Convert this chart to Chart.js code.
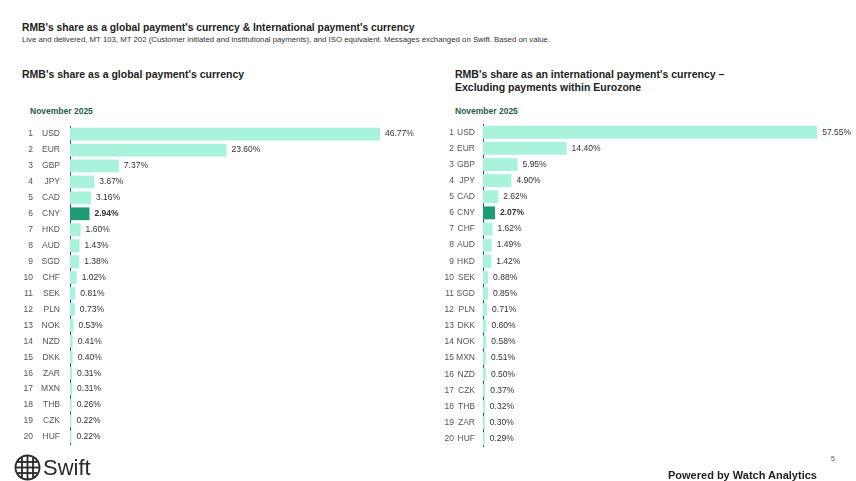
<!DOCTYPE html>
<html>
<head>
<meta charset="utf-8">
<script src="https://cdn.jsdelivr.net/npm/chart.js@4.4.1/dist/chart.umd.min.js"></script>
<style>
  body { margin: 0; width: 856px; height: 481px; background: #fff; font-family: "Liberation Sans", Arial, sans-serif; color: #222; position: relative; overflow: hidden; }
  .abs { position: absolute; white-space: nowrap; }
  .title { left: 22px; top: 22px; font-size: 10.3px; line-height: 12px; font-weight: bold; }
  .sub { left: 22px; top: 35px; font-size: 7.8px; line-height: 10px; color: #333; }
  .ptitle { font-size: 10.5px; font-weight: bold; line-height: 13px; }
  .period { font-size: 8.5px; line-height: 10px; font-weight: bold; color: #1f5e4a; }
  .logo { left: 14px; top: 454px; font-size: 22px; line-height: 26px; color: #2a2a2a; display: flex; align-items: center; gap: 2px; }
  .powered { left: 668px; top: 469px; font-size: 11px; line-height: 13px; font-weight: bold; }
  .page { left: 831px; top: 455px; font-size: 7px; color: #555; }
  canvas { position: absolute; }
</style>
</head>
<body>
<div class="abs title">RMB's share as a global payment's currency &amp; International payment's currency</div>
<div class="abs sub">Live and delivered, MT 103, MT 202 (Customer initiated and institutional payments), and ISO equivalent. Messages exchanged on Swift. Based on value.</div>

<div class="abs ptitle" style="left:22px;top:68px;">RMB's share as a global payment's currency</div>
<div class="abs period" style="left:30px;top:106px;">November 2025</div>

<div class="abs ptitle" style="left:455px;top:68px;">RMB's share as an international payment's currency –<br>Excluding payments within Eurozone</div>
<div class="abs period" style="left:455px;top:106px;">November 2025</div>

<canvas id="globalChart" width="430" height="349" style="left:0;top:111px;"></canvas>
<canvas id="intlChart" width="426" height="349" style="left:430px;top:111px;"></canvas>

<div class="abs logo">
  <svg width="27" height="27" viewBox="0 0 22 22">
    <g fill="none" stroke="#2a2a2a" stroke-width="1.5">
      <circle cx="11" cy="11" r="9.8"/>
      <line x1="1.2" y1="11" x2="20.8" y2="11"/>
      <line x1="11" y1="1.2" x2="11" y2="20.8"/>
      <line x1="2.8" y1="6.5" x2="19.2" y2="6.5"/>
      <line x1="2.8" y1="15.5" x2="19.2" y2="15.5"/>
      <line x1="6.5" y1="2.8" x2="6.5" y2="19.2"/>
      <line x1="15.5" y1="2.8" x2="15.5" y2="19.2"/>
    </g>
  </svg>
  <span>Swift</span>
</div>
<div class="abs page">5</div>
<div class="abs powered">Powered by Watch Analytics</div>

<script>
// Données (novembre 2025)
const globalCurrencies = ["USD", "EUR", "GBP", "JPY", "CAD", "CNY", "HKD", "AUD", "SGD", "CHF",
  "SEK", "PLN", "NOK", "NZD", "DKK", "ZAR", "MXN", "THB", "CZK", "HUF"];
const globalShares = [46.77, 23.60, 7.37, 3.67, 3.16, 2.94, 1.60, 1.43, 1.38, 1.02,
  0.81, 0.73, 0.53, 0.41, 0.40, 0.31, 0.31, 0.26, 0.22, 0.22];

const intlCurrencies = ["USD", "EUR", "GBP", "JPY", "CAD", "CNY", "CHF", "AUD", "HKD", "SEK",
  "SGD", "PLN", "DKK", "NOK", "MXN", "NZD", "CZK", "THB", "ZAR", "HUF"];
const intlShares = [57.55, 14.40, 5.95, 4.90, 2.62, 2.07, 1.62, 1.49, 1.42, 0.88,
  0.85, 0.71, 0.60, 0.58, 0.51, 0.50, 0.37, 0.32, 0.30, 0.29];

const HIGHLIGHT = "CNY";
const BAR_COLOR = "#a9f2de";
const BAR_HIGHLIGHT = "#1f9a77";
const AXIS_COLOR = "#1b5e4e";
const FONT = "'Liberation Sans', Arial, sans-serif";

// Plugin: rang à gauche + valeur en bout de barre
const labelPlugin = {
  id: "rankAndValues",
  afterDatasetsDraw(chart, args, opts) {
    const ctx = chart.ctx;
    const meta = chart.getDatasetMeta(0);
    const labels = chart.data.labels;
    const values = chart.data.datasets[0].data;
    ctx.save();
    ctx.textBaseline = "middle";
    meta.data.forEach((bar, i) => {
      const bold = labels[i] === HIGHLIGHT;
      ctx.fillStyle = "#333";
      ctx.font = (bold ? "bold " : "") + "8.5px " + FONT;
      ctx.textAlign = "left";
      ctx.fillText(values[i].toFixed(2) + "%", bar.x + 5, bar.y);
      ctx.fillStyle = "#555";
      ctx.font = "8.5px " + FONT;
      ctx.textAlign = "right";
      ctx.fillText(String(i + 1), opts.rankX, bar.y);
    });
    ctx.restore();
  }
};

function makeChart(id, labels, values, opts) {
  return new Chart(document.getElementById(id), {
    type: "bar",
    data: {
      labels: labels,
      datasets: [{
        data: values,
        backgroundColor: labels.map(l => l === HIGHLIGHT ? BAR_HIGHLIGHT : BAR_COLOR),
        borderWidth: 0,
        barPercentage: 0.8,
        categoryPercentage: 1
      }]
    },
    options: {
      indexAxis: "y",
      responsive: false,
      animation: false,
      layout: { padding: { left: opts.padLeft, right: opts.padRight, top: 4, bottom: 3 } },
      scales: {
        x: { display: false, min: 0, max: opts.max },
        y: {
          afterFit: s => { s.width = opts.axisWidth; },
          grid: { display: false, drawTicks: false },
          border: { display: true, color: AXIS_COLOR, width: 1 },
          ticks: { color: "#555", padding: opts.tickPad, font: { family: FONT, size: 8.5 } }
        }
      },
      plugins: {
        legend: { display: false },
        tooltip: { enabled: false },
        rankAndValues: { rankX: opts.rankX }
      }
    },
    plugins: [labelPlugin]
  });
}

makeChart("globalChart", globalCurrencies, globalShares,
  { padLeft: 20, padRight: 10, axisWidth: 50, max: 52.8, rankX: 33, tickPad: 10 });
makeChart("intlChart", intlCurrencies, intlShares,
  { padLeft: 5, padRight: 6, axisWidth: 48, max: 63.2, rankX: 24, tickPad: 8 });
</script>
</body>
</html>
